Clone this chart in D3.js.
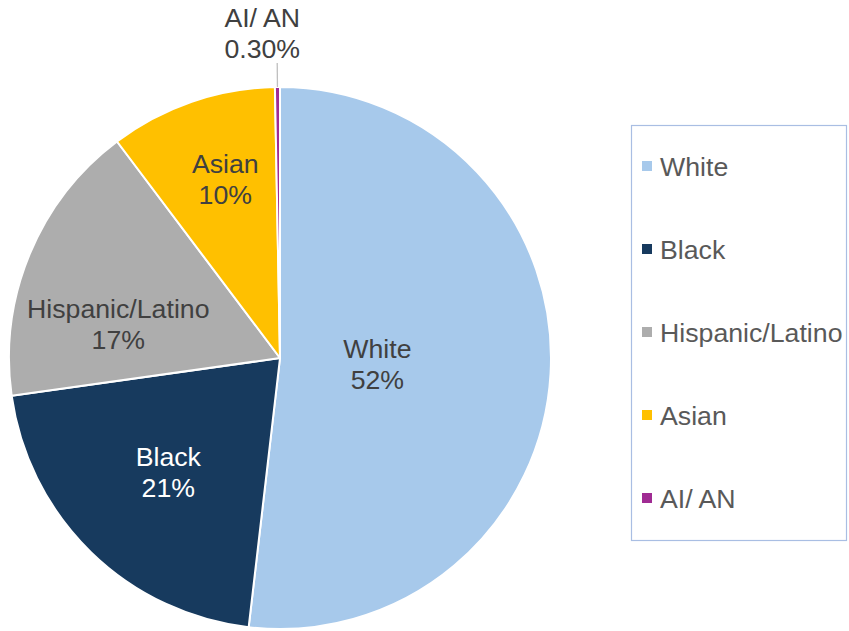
<!DOCTYPE html>
<html>
<head>
<meta charset="utf-8">
<script src="https://cdn.jsdelivr.net/npm/d3@7"></script>
<style>
  html, body { margin: 0; padding: 0; background: #ffffff; }
  svg { display: block; font-family: "Liberation Sans", Arial, sans-serif; }
</style>
</head>
<body>
<svg id="chart" width="849" height="631"></svg>
<script>
// Share of population by race / ethnicity
const categories = ["White", "Black", "Hispanic/Latino", "Asian", "AI/ AN"];
const values = [52, 21, 17, 10, 0.3];
const valueLabels = ["52%", "21%", "17%", "10%", "0.30%"];
const colors = ["#A7C9EB", "#173A5E", "#ADADAD", "#FFC000", "#A02B93"];

// label placement: fraction of radius and angular nudge (degrees) for inside labels
const labelRadius = [0.36, 0.59, 0.61, 0.69, null];
const labelNudge = [0, 0, -10.6, 2, 0];

const svg = d3.select("#chart");
const cx = 280, cy = 358, r = 271;
const fontSize = 26.7, lineGap = 31;

const pie = d3.pie().sort(null).value(d => d.value)
  .startAngle(0).endAngle(2 * Math.PI);
const data = categories.map((c, i) => ({ name: c, value: values[i], label: valueLabels[i], color: colors[i], i }));
const arcs = pie(data);
const arc = d3.arc().innerRadius(0).outerRadius(r);

const g = svg.append("g").attr("transform", `translate(${cx},${cy})`);

g.selectAll("path.slice")
  .data(arcs)
  .join("path")
  .attr("class", "slice")
  .attr("d", arc)
  .attr("fill", d => d.data.color)
  .attr("stroke", "#ffffff")
  .attr("stroke-width", 2)
  .attr("stroke-linejoin", "round");

function polar(angle, dist) {
  return [dist * Math.sin(angle), -dist * Math.cos(angle)];
}

// inside labels
arcs.forEach(d => {
  const i = d.data.i;
  if (labelRadius[i] == null) return;
  const mid = (d.startAngle + d.endAngle) / 2 + labelNudge[i] * Math.PI / 180;
  const [x, y] = polar(mid, r * labelRadius[i]);
  const fill = i === 1 ? "#ffffff" : "#404040";
  const t = g.append("text")
    .attr("text-anchor", "middle")
    .attr("font-size", fontSize)
    .attr("fill", fill);
  t.append("tspan").attr("x", x).attr("y", y - 6).text(d.data.name);
  t.append("tspan").attr("x", x).attr("y", y - 6 + lineGap).text(d.data.label);
});

// outside label with leader line for the thin slice
arcs.forEach(d => {
  const i = d.data.i;
  if (labelRadius[i] != null) return;
  const mid = (d.startAngle + d.endAngle) / 2;
  const [x0, y0] = polar(mid, r);
  const [x1, y1] = polar(mid, r + 24);
  g.append("line")
    .attr("x1", x0).attr("y1", y0)
    .attr("x2", x1).attr("y2", y1)
    .attr("stroke", "#BFBFBF")
    .attr("stroke-width", 1.3);
  const t = g.append("text")
    .attr("text-anchor", "middle")
    .attr("font-size", fontSize)
    .attr("fill", "#404040");
  const tx = x1 - 15;
  t.append("tspan").attr("x", tx).attr("y", y1 - 5 - lineGap).text(d.data.name);
  t.append("tspan").attr("x", tx).attr("y", y1 - 5).text(d.data.label);
});

// legend
const legend = svg.append("g").attr("transform", "translate(631.5,125.5)");
legend.append("rect")
  .attr("width", 215).attr("height", 415)
  .attr("fill", "none")
  .attr("stroke", "#A9BEE3")
  .attr("stroke-width", 1.2);

const rowY = d3.scalePoint().domain(categories).range([50, 382]);
const rows = legend.selectAll("g.row")
  .data(data)
  .join("g")
  .attr("class", "row")
  .attr("transform", d => `translate(0,${rowY(d.name)})`);
rows.append("rect")
  .attr("x", 10.5).attr("y", -14.5)
  .attr("width", 10).attr("height", 10)
  .attr("fill", d => d.color);
rows.append("text")
  .attr("x", 28.5).attr("y", 0)
  .attr("font-size", fontSize)
  .attr("fill", "#595959")
  .text(d => d.name);
</script>
</body>
</html>
